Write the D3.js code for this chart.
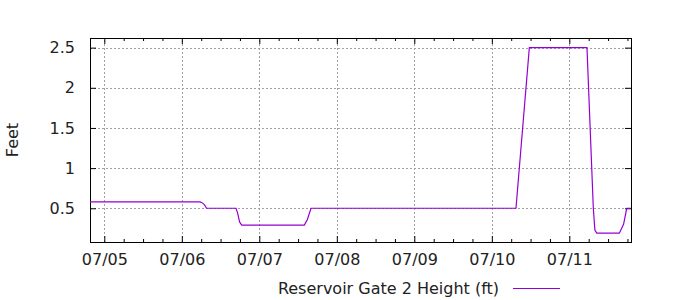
<!DOCTYPE html>
<html lang="en">
<head>
  <meta charset="UTF-8" />
  <title>Reservoir Gate 2 Height</title>
  <script src="https://cdn.jsdelivr.net/npm/d3@7"></script>
  <style>
    html, body { margin: 0; padding: 0; background: #fff; }
    svg { display: block; }
    text { font-family: "DejaVu Sans", sans-serif; font-size: 16px; fill: #222; }
  </style>
</head>
<body>
  <script>
    // readings (local time) and gate height in feet
    const times = [
      "2021-07-04 19:34", "2021-07-06 05:38", "2021-07-06 06:14", "2021-07-06 06:58",
      "2021-07-06 07:42", "2021-07-06 16:47", "2021-07-06 17:17", "2021-07-06 17:53",
      "2021-07-06 18:33", "2021-07-07 13:57", "2021-07-07 14:53", "2021-07-07 16:00",
      "2021-07-10 07:29", "2021-07-10 11:37", "2021-07-11 05:28", "2021-07-11 07:26",
      "2021-07-11 07:55", "2021-07-11 08:30", "2021-07-11 15:29", "2021-07-11 16:48",
      "2021-07-11 17:47", "2021-07-11 19:06"
    ];
    const gateHeight = [
      0.58, 0.58, 0.57, 0.545,
      0.5, 0.5, 0.44, 0.33,
      0.29, 0.29, 0.36, 0.5,
      0.5, 2.5, 2.5, 0.5,
      0.23, 0.19, 0.19, 0.3,
      0.5, 0.5
    ];
    const xTickLabels = ["07/05", "07/06", "07/07", "07/08", "07/09", "07/10", "07/11"];
    const yTicks = [0.5, 1, 1.5, 2, 2.5];
    const seriesName = "Reservoir Gate 2 Height (ft)";

    const width = 700, height = 300;
    const margin = { top: 38, right: 69, bottom: 58, left: 90 };
    const parse = d3.timeParse("%Y-%m-%d %H:%M");
    const data = times.map((t, i) => ({ t: parse(t), v: gateHeight[i] }));
    const xTicks = xTickLabels.map(s => parse("2021-" + s.replace("/", "-") + " 00:00"));

    const svg = d3.select("body").append("svg")
      .attr("width", width)
      .attr("height", height);

    const x = d3.scaleTime()
      .domain(d3.extent(data, d => d.t))
      .range([margin.left, width - margin.right]);
    const y = d3.scaleLinear()
      .domain([0.08, 2.62])
      .range([height - margin.bottom, margin.top]);

    const x0 = margin.left, x1 = width - margin.right;
    const y0 = height - margin.bottom, y1 = margin.top;

    // grid
    const grid = svg.append("g")
      .attr("stroke", "#a0a0a0")
      .attr("stroke-dasharray", "2,2")
      .attr("shape-rendering", "crispEdges");
    grid.selectAll(".gx").data(xTicks).join("line")
      .attr("x1", d => Math.round(x(d)) + 0.5).attr("x2", d => Math.round(x(d)) + 0.5)
      .attr("y1", y0).attr("y2", y1);
    grid.selectAll(".gy").data(yTicks).join("line")
      .attr("y1", d => Math.round(y(d)) + 0.5).attr("y2", d => Math.round(y(d)) + 0.5)
      .attr("x1", x0).attr("x2", x1);

    // minor ticks every 6 hours
    const minor = d3.timeHour.every(6).range(x.domain()[0], x.domain()[1])
      .filter(d => d.getHours() !== 0);

    // axes (gnuplot style: ticks inward, mirrored)
    const axBottom = svg.append("g")
      .attr("transform", `translate(0,${y0})`)
      .call(d3.axisBottom(x).tickValues(xTicks).tickFormat(d3.timeFormat("%m/%d"))
        .tickSizeInner(-6).tickSizeOuter(0).tickPadding(12));
    const axTop = svg.append("g")
      .attr("transform", `translate(0,${y1})`)
      .call(d3.axisTop(x).tickValues(xTicks).tickFormat("")
        .tickSizeInner(-6).tickSizeOuter(0));
    const axBottomMinor = svg.append("g")
      .attr("transform", `translate(0,${y0})`)
      .call(d3.axisBottom(x).tickValues(minor).tickFormat("")
        .tickSizeInner(-3).tickSizeOuter(0));
    const axTopMinor = svg.append("g")
      .attr("transform", `translate(0,${y1})`)
      .call(d3.axisTop(x).tickValues(minor).tickFormat("")
        .tickSizeInner(-3).tickSizeOuter(0));
    const axLeft = svg.append("g")
      .attr("transform", `translate(${x0},0)`)
      .call(d3.axisLeft(y).tickValues(yTicks).tickFormat(d => String(d))
        .tickSizeInner(-6).tickSizeOuter(0).tickPadding(15));
    const axRight = svg.append("g")
      .attr("transform", `translate(${x1},0)`)
      .call(d3.axisRight(y).tickValues(yTicks).tickFormat("")
        .tickSizeInner(-6).tickSizeOuter(0));

    [axBottom, axTop, axBottomMinor, axTopMinor, axLeft, axRight].forEach(g => {
      g.select(".domain").remove();
      g.selectAll("line").attr("stroke", "#000");
      g.selectAll("text").attr("font-family", null).attr("font-size", null).attr("fill", null);
    });

    // border
    svg.append("rect")
      .attr("x", x0 + 0.5).attr("y", y1 + 0.5)
      .attr("width", x1 - x0).attr("height", y0 - y1)
      .attr("fill", "none").attr("stroke", "#000")
      .attr("shape-rendering", "crispEdges");

    // data line
    const line = d3.line().x(d => x(d.t)).y(d => y(d.v));
    svg.append("path")
      .datum(data)
      .attr("fill", "none")
      .attr("stroke", "#9400d3")
      .attr("stroke-width", 1.2)
      .attr("d", line);

    // y label
    svg.append("text")
      .attr("transform", `translate(18,${(y0 + y1) / 2}) rotate(-90)`)
      .attr("text-anchor", "middle")
      .text("Feet");

    // legend
    const legend = svg.append("g").attr("transform", "translate(0,288)");
    legend.append("text")
      .attr("x", 499).attr("dy", "0.35em")
      .attr("text-anchor", "end")
      .text(seriesName);
    legend.append("line")
      .attr("x1", 513).attr("x2", 560)
      .attr("y1", 0.5).attr("y2", 0.5)
      .attr("stroke", "#9400d3");
  </script>
</body>
</html>
